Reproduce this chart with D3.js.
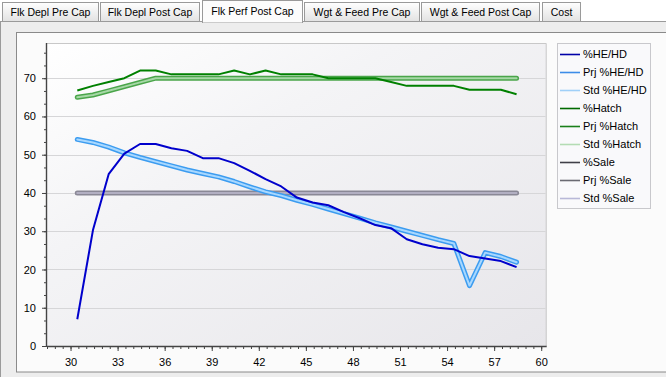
<!DOCTYPE html>
<html><head><meta charset="utf-8">
<script src="https://cdn.jsdelivr.net/npm/d3@7"></script>
<style>
html,body{margin:0;padding:0;background:#fff;}
svg{display:block;font-family:"Liberation Sans",Arial,sans-serif;}
</style></head>
<body><svg id="c" width="666" height="377"></svg>
<script>
// ---- data ----
const tabs = ["Flk Depl Pre Cap","Flk Depl Post Cap","Flk Perf Post Cap","Wgt & Feed Pre Cap","Wgt & Feed Post Cap","Cost"];
const activeTab = "Flk Perf Post Cap";
const weeks = [30.43,31.43,32.43,33.43,34.43,35.43,36.43,37.43,38.43,39.43,40.43,41.43,42.43,43.43,44.43,45.43,46.43,47.43,48.43,49.43,50.43,51.43,52.43,53.43,54.43,55.43,56.43,57.43,58.43];
const heHd = [7.0,30.3,44.9,50.3,52.8,52.8,51.7,51.0,49.1,49.1,47.8,45.8,43.6,41.7,38.8,37.5,36.8,35.0,33.4,31.6,30.8,27.9,26.6,25.7,25.3,23.5,22.9,22.2,20.6];
const prjHeHd = [54.0,53.2,52.0,50.5,49.3,48.2,47.1,46.0,45.1,44.2,43.0,41.6,40.3,39.3,38.1,37.0,35.8,34.6,33.4,32.2,31.1,30.0,28.9,27.8,26.8,15.8,24.4,23.4,21.9];
const stdHeHd = [54.0,53.2,52.0,50.5,49.3,48.2,47.1,46.0,45.1,44.2,43.0,41.6,40.3,39.3,38.1,37.0,35.8,34.6,33.4,32.2,31.1,30.0,28.9,27.8,26.8,15.8,24.4,23.4,21.9];
const hatch = [66.8,68.0,69.0,70.0,72.0,72.0,71.0,71.0,71.0,71.0,72.0,71.0,72.0,71.0,71.0,71.0,70.0,70.0,70.0,70.0,69.0,68.0,68.0,68.0,68.0,67.0,67.0,67.0,65.8];
const prjHatch = [65.0,65.6,66.7,67.8,68.9,70,70,70,70,70,70,70,70,70,70,70,70,70,70,70,70,70,70,70,70,70,70,70,70];
const stdHatch = [65.0,65.6,66.7,67.8,68.9,70,70,70,70,70,70,70,70,70,70,70,70,70,70,70,70,70,70,70,70,70,70,70,70];
const sale = [40,40,40,40,40,40,40,40,40,40,40,40,40,40,40,40,40,40,40,40,40,40,40,40,40,40,40,40,40];
const prjSale = [40,40,40,40,40,40,40,40,40,40,40,40,40,40,40,40,40,40,40,40,40,40,40,40,40,40,40,40,40];
const stdSale = [40,40,40,40,40,40,40,40,40,40,40,40,40,40,40,40,40,40,40,40,40,40,40,40,40,40,40,40,40];
const xMajorTicks = [30,33,36,39,42,45,48,51,54,57,60];
const yMajorTicks = [0,10,20,30,40,50,60,70];
const legendNames = ["%HE/HD","Prj %HE/HD","Std %HE/HD","%Hatch","Prj %Hatch","Std %Hatch","%Sale","Prj %Sale","Std %Sale"];
const legendColors = ["#0000a8","#3c8ce8","#a0d0f8","#006a00","#1a7f1a","#b4dcb4","#404048","#6a6a72","#b8b8d8"];

// ---- drawing ----
const svg = d3.select("#c");
const defs = svg.append("defs");
const tg = defs.append("linearGradient").attr("id","tabg").attr("x1",0).attr("y1",0).attr("x2",0).attr("y2",1);
tg.append("stop").attr("offset","0%").attr("stop-color","#ffffff");
tg.append("stop").attr("offset","100%").attr("stop-color","#e2e2e2");
const pg = defs.append("linearGradient").attr("id","plotg").attr("x1",0).attr("y1",0).attr("x2",1).attr("y2",1);
pg.append("stop").attr("offset","0%").attr("stop-color","#ffffff");
pg.append("stop").attr("offset","35%").attr("stop-color","#f4f4f6");
pg.append("stop").attr("offset","100%").attr("stop-color","#e7e6ea");

// panel
svg.append("rect").attr("x",0.5).attr("y",21.5).attr("width",670).attr("height",360)
  .attr("fill","#ededed").attr("stroke","#9a9a9a");
// tabs
const tabX = [2,100,202,304,421,542];
const tabW = [96,99,100,115,118,38];
tabs.forEach((t,i)=>{
  const act = t===activeTab;
  const g = svg.append("g");
  const y0 = act?0.5:2.5, h = act?22:19;
  g.append("rect").attr("x",tabX[i]+0.5).attr("y",y0).attr("width",tabW[i]).attr("height",h)
    .attr("fill",act?"#fcfcfc":"url(#tabg)").attr("stroke","#9a9a9a");
  if(act) g.append("line").attr("x1",tabX[i]+1).attr("x2",tabX[i]+tabW[i]).attr("y1",21.5).attr("y2",21.5).attr("stroke","#fcfcfc").attr("stroke-width",2);
  g.append("text").attr("x",tabX[i]+tabW[i]/2+0.5).attr("y",act?15:16).attr("text-anchor","middle")
    .attr("font-size","10.5px").attr("fill","#000").text(t);
});

// chart box
svg.append("rect").attr("x",16.5).attr("y",32.5).attr("width",660).attr("height",339.5)
  .attr("fill","#fbfbfb").attr("stroke","#8a8a8a");

const L=47, R=546.7, T=43, B=346;
const x = d3.scaleLinear().domain([28.5,60.35]).range([L,R]);
const y = d3.scaleLinear().domain([0,79.2]).range([B,T]);

svg.append("rect").attr("x",L).attr("y",T).attr("width",R-L).attr("height",B-T).attr("fill","url(#plotg)");
// border top/right
svg.append("path").attr("d",`M${L},${T+0.5}H${R-0.5}V${B}`).attr("fill","none").attr("stroke","#c8c8c8");

// grid
svg.append("g").selectAll("line").data(yMajorTicks.filter(d=>d>0)).join("line")
  .attr("x1",L).attr("x2",R-1).attr("y1",d=>Math.round(y(d))+0.5).attr("y2",d=>Math.round(y(d))+0.5)
  .attr("stroke","#d6d6d8");

// axes
const xMinor = d3.range(57,121).map(d=>d/2);
const yMinor = d3.range(0,24).map(d=>d*10/3).filter(v=>v<=79);
const axColor = "#444";
const gxm = svg.append("g").attr("transform",`translate(0,${B})`)
  .call(d3.axisBottom(x).tickValues(xMinor).tickSize(3).tickFormat(""));
const gx = svg.append("g").attr("transform",`translate(0,${B})`)
  .call(d3.axisBottom(x).tickValues(xMajorTicks).tickSize(5).tickPadding(7).tickFormat(d3.format("d")));
const gym = svg.append("g").attr("transform",`translate(${L},0)`)
  .call(d3.axisLeft(y).tickValues(yMinor).tickSize(3).tickFormat(""));
const gy = svg.append("g").attr("transform",`translate(${L},0)`)
  .call(d3.axisLeft(y).tickValues(yMajorTicks).tickSize(5).tickPadding(6).tickFormat(d3.format("d")));
[gxm,gx,gym,gy].forEach(g=>{
  g.selectAll("line").attr("stroke",axColor);
  g.select(".domain").attr("stroke",axColor).attr("stroke-width",1.4);
  g.selectAll("text").attr("font-size","11px").attr("fill","#000").attr("font-family","Liberation Sans, Arial, sans-serif");
});
gym.select(".domain").attr("d",`M-0.5,${T}V${B}`);
gxm.select(".domain").attr("d",`M${L},0.5H${R}`);
gy.select(".domain").remove(); gx.select(".domain").remove();

// lines
const line = d3.line().x((d,i)=>x(weeks[i])).y(d=>y(d));
function drawDouble(data, outer, inner){
  svg.append("path").datum(data).attr("d",line).attr("fill","none")
    .attr("stroke",outer).attr("stroke-width",5).attr("stroke-linejoin","round").attr("stroke-linecap","round");
  svg.append("path").datum(data).attr("d",line).attr("fill","none")
    .attr("stroke",inner).attr("stroke-width",2).attr("stroke-linejoin","round").attr("stroke-linecap","round");
}
drawDouble(prjSale,"#8a8896","#b2afc2");
drawDouble(prjHatch,"#4aa54a","#a6d8a6");
svg.append("path").datum(hatch).attr("d",line).attr("fill","none").attr("stroke","#008000").attr("stroke-width",2).attr("stroke-linejoin","round");
drawDouble(prjHeHd,"#3c9cf0","#a8d8ff");
svg.append("path").datum(heHd).attr("d",line).attr("fill","none").attr("stroke","#0000cc").attr("stroke-width",2).attr("stroke-linejoin","round");

// legend
const lg = svg.append("g");
lg.append("rect").attr("x",557.5).attr("y",43.5).attr("width",93).attr("height",165)
  .attr("fill","#f9f9fb").attr("stroke","#c8c8cc");
legendNames.forEach((n,i)=>{
  const yy = 54 + i*18;
  lg.append("line").attr("x1",560).attr("x2",580).attr("y1",yy+0.5).attr("y2",yy+0.5)
    .attr("stroke",legendColors[i]).attr("stroke-width",1.6);
  lg.append("text").attr("x",583).attr("y",yy+4).attr("font-size","11px").attr("fill","#000").text(n);
});
</script></body></html>
